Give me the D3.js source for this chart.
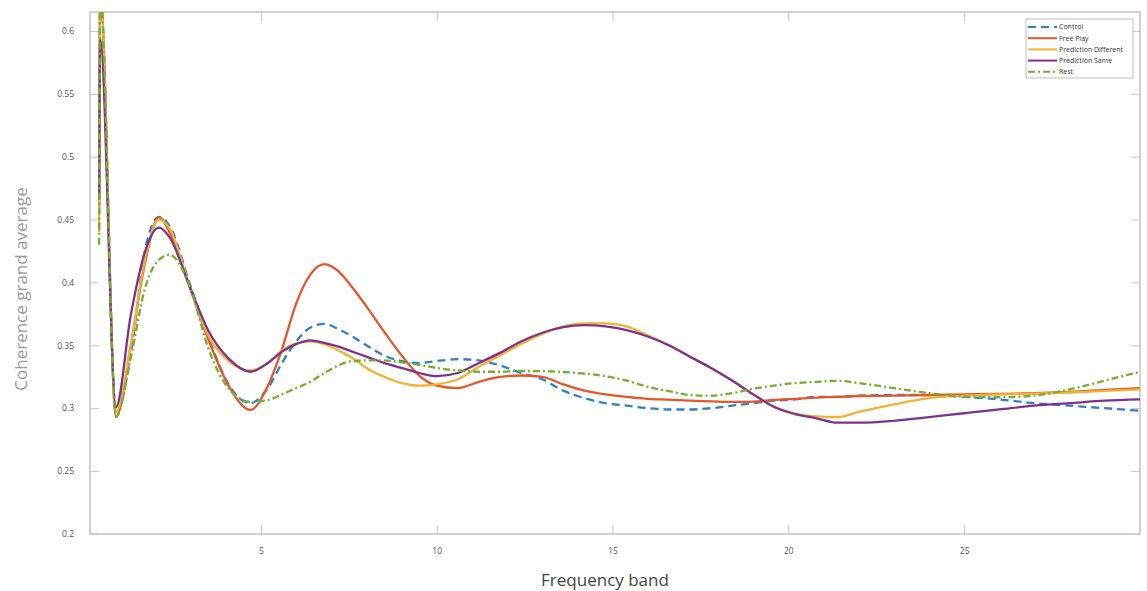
<!DOCTYPE html>
<html>
<head>
<meta charset="utf-8">
<script src="https://cdn.jsdelivr.net/npm/d3@7"></script>
<style>
  body { margin: 0; background: #fff; }
  text { font-family: "Open Sans", sans-serif; }
</style>
</head>
<body>
<div id="chart"></div>
<script>
// Frequency grid (Hz) shared by all series
var freq = [0.40, 0.43, 0.88, 1.3, 1.7, 2.1, 2.4, 3.0, 3.5, 4.1, 4.7, 5.2, 5.6, 6.0, 6.4, 6.8, 7.2, 7.6,
  8.0, 8.5, 9.0, 9.5, 10.0, 10.6, 11.2, 11.8, 12.4, 13.0, 13.6, 14.2, 14.8, 15.4, 16.0, 16.6, 17.2,
  17.8, 18.4, 19.0, 19.6, 20.2, 20.8, 21.4, 22.0, 23.0, 24.0, 25.0, 26.0, 27.0, 28.0, 29.0, 30.0];

var control = [0.46, 0.63, 0.296, 0.343, 0.425, 0.452, 0.445, 0.397, 0.357, 0.318, 0.304, 0.316, 0.336,
  0.353, 0.364, 0.367, 0.363, 0.357, 0.350, 0.342, 0.3375, 0.336, 0.3375, 0.339, 0.338, 0.334, 0.328,
  0.323, 0.314, 0.308, 0.304, 0.302, 0.300, 0.299, 0.299, 0.300, 0.302, 0.304, 0.306, 0.307, 0.309,
  0.309, 0.310, 0.3105, 0.3105, 0.309, 0.307, 0.304, 0.302, 0.300, 0.298];

var freePlay = [0.46, 0.63, 0.293, 0.35, 0.415, 0.452, 0.440, 0.394, 0.355, 0.317, 0.2986, 0.318, 0.347,
  0.383, 0.406, 0.4145, 0.409, 0.396, 0.381, 0.361, 0.342, 0.326, 0.318, 0.316, 0.321, 0.325, 0.326,
  0.325, 0.319, 0.314, 0.311, 0.309, 0.3075, 0.3068, 0.306, 0.3055, 0.305, 0.3053, 0.3066, 0.3075,
  0.3085, 0.309, 0.3097, 0.310, 0.3105, 0.311, 0.3113, 0.312, 0.313, 0.3145, 0.316];

var predDifferent = [0.44, 0.63, 0.297, 0.35, 0.418, 0.450, 0.443, 0.395, 0.358, 0.337, 0.330, 0.336,
  0.346, 0.3516, 0.353, 0.351, 0.346, 0.340, 0.332, 0.325, 0.320, 0.318, 0.319, 0.323, 0.333, 0.342,
  0.351, 0.359, 0.365, 0.3675, 0.3675, 0.365, 0.358, 0.350, 0.341, 0.332, 0.322, 0.311, 0.301, 0.295,
  0.2935, 0.293, 0.297, 0.303, 0.308, 0.310, 0.311, 0.3115, 0.3125, 0.3138, 0.315];

var predSame = [0.466, 0.594, 0.301, 0.374, 0.424, 0.4435, 0.436, 0.395, 0.362, 0.339, 0.329, 0.336,
  0.345, 0.351, 0.354, 0.352, 0.349, 0.345, 0.341, 0.336, 0.332, 0.328, 0.3255, 0.328, 0.336, 0.344,
  0.353, 0.360, 0.3645, 0.366, 0.365, 0.362, 0.357, 0.350, 0.341, 0.332, 0.322, 0.311, 0.301, 0.2955,
  0.292, 0.2885, 0.2885, 0.290, 0.293, 0.296, 0.299, 0.302, 0.304, 0.306, 0.307];

var rest = [0.43, 0.63, 0.293, 0.34, 0.395, 0.418, 0.422, 0.395, 0.348, 0.315, 0.305, 0.3065, 0.311,
  0.316, 0.321, 0.328, 0.334, 0.3375, 0.338, 0.338, 0.3365, 0.3345, 0.332, 0.330, 0.329, 0.329, 0.3296,
  0.3295, 0.3288, 0.3275, 0.3255, 0.322, 0.317, 0.3135, 0.3105, 0.310, 0.312, 0.3155, 0.318, 0.320,
  0.321, 0.3218, 0.320, 0.316, 0.312, 0.3092, 0.3087, 0.310, 0.315, 0.322, 0.329];

var seriesNames = ["Control", "Free Play", "Prediction Different", "Prediction Same", "Rest"];
var seriesValues = [control, freePlay, predDifferent, predSame, rest];
var seriesColors = ["#2f7fd0", "#e5562a", "#f2b233", "#7f3190", "#72b02e"];
var seriesDash = ["8,5", null, null, null, "7,3,2,3"];

var xTicks = [5, 10, 15, 20, 25];
var yTicks = [0.2, 0.25, 0.3, 0.35, 0.4, 0.45, 0.5, 0.55, 0.6];

// SVG area and chart margins
var svg_Width = 1147;
var svg_Height = 591;
var chart_Margin = { top: 12, right: 7, bottom: 57, left: 90 };
var chart_Width = svg_Width - chart_Margin.left - chart_Margin.right;
var chart_Height = svg_Height - chart_Margin.top - chart_Margin.bottom;

var svg = d3.select("#chart")
  .append("svg")
  .attr("width", svg_Width)
  .attr("height", svg_Height);

var chart_Group = svg.append("g")
  .attr("transform", `translate(${chart_Margin.left}, ${chart_Margin.top})`);

var x_Scale = d3.scaleLinear().domain([0.14, 30]).range([0, chart_Width]);
var y_Scale = d3.scaleLinear().domain([0.2, 0.615]).range([chart_Height, 0]);

// Axes with inward ticks, Matlab style
var axisColor = "#c4c4c4";
function styleAxis(g) {
  g.select(".domain").remove();
  g.selectAll(".tick line").attr("stroke", axisColor);
  g.selectAll(".tick text").attr("fill", "#555").style("font-size", "8.5px");
}

chart_Group.append("g")
  .attr("transform", `translate(0, ${chart_Height})`)
  .call(d3.axisBottom(x_Scale).tickValues(xTicks).tickSizeInner(-9).tickPadding(14).tickFormat(d3.format("d")))
  .call(styleAxis);

chart_Group.append("g")
  .call(d3.axisTop(x_Scale).tickValues(xTicks).tickSizeInner(-9).tickFormat(""))
  .call(styleAxis);

chart_Group.append("g")
  .call(d3.axisLeft(y_Scale).tickValues(yTicks).tickSizeInner(-9).tickPadding(16).tickFormat(d => String(+d.toFixed(2))))
  .call(styleAxis);

chart_Group.append("g")
  .attr("transform", `translate(${chart_Width}, 0)`)
  .call(d3.axisRight(y_Scale).tickValues(yTicks).tickSizeInner(-9).tickFormat(""))
  .call(styleAxis);

// Frame
chart_Group.append("rect")
  .attr("width", chart_Width)
  .attr("height", chart_Height)
  .attr("fill", "none")
  .attr("stroke", axisColor)
  .attr("stroke-width", 1.5);

// Clip lines to plot area
svg.append("defs").append("clipPath")
  .attr("id", "plotClip")
  .append("rect")
  .attr("width", chart_Width)
  .attr("height", chart_Height);

var line = d3.line()
  .x((d, i) => x_Scale(freq[i]))
  .y(d => y_Scale(d))
  .curve(d3.curveMonotoneX);

var lines_Group = chart_Group.append("g").attr("clip-path", "url(#plotClip)");

// draw Rest first so it sits underneath, as in the figure order
seriesValues.forEach(function(vals, k) {
  lines_Group.append("path")
    .datum(vals)
    .attr("fill", "none")
    .attr("stroke", seriesColors[k])
    .attr("stroke-width", 2.3)
    .attr("stroke-dasharray", seriesDash[k])
    .attr("d", line);
});

// Legend
var legend = svg.append("g").attr("transform", "translate(1026, 19)");
legend.append("rect")
  .attr("width", 107)
  .attr("height", 59)
  .attr("fill", "#fff")
  .attr("stroke", "#bdbdbd");

seriesNames.forEach(function(name, k) {
  var ly = 8 + k * 11.2;
  legend.append("line")
    .attr("x1", 2).attr("x2", 31)
    .attr("y1", ly).attr("y2", ly)
    .attr("stroke", seriesColors[k])
    .attr("stroke-width", 2)
    .attr("stroke-dasharray", seriesDash[k]);
  legend.append("text")
    .attr("x", 33)
    .attr("y", ly)
    .attr("dy", "0.35em")
    .attr("fill", "#333")
    .style("font-size", "7px")
    .text(name);
});

// Axis labels
svg.append("text")
  .attr("x", 605)
  .attr("y", 586)
  .attr("text-anchor", "middle")
  .attr("fill", "#444")
  .style("font-size", "17px")
  .text("Frequency band");

svg.append("text")
  .attr("transform", "rotate(-90)")
  .attr("x", -289)
  .attr("y", 27)
  .attr("text-anchor", "middle")
  .attr("fill", "#9a9a9a")
  .style("font-size", "17px")
  .text("Coherence grand average");
</script>
</body>
</html>
